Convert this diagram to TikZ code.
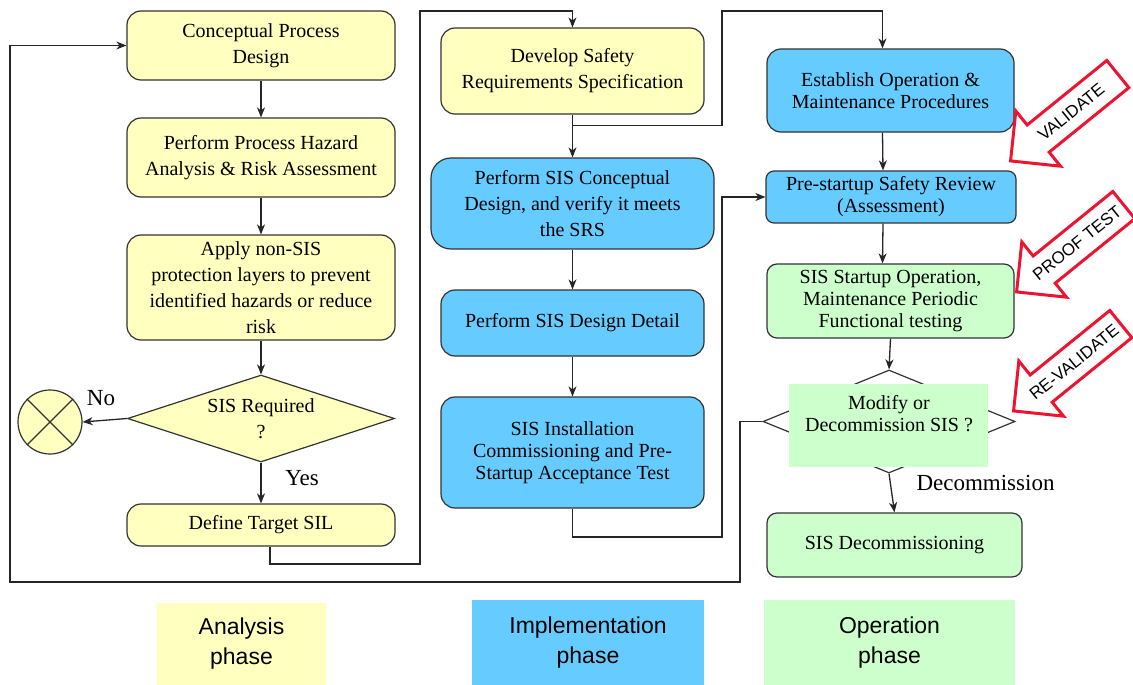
\documentclass[tikz,border=0pt]{standalone}
\usepackage{fontspec}
\setmainfont{Liberation Serif}
\setsansfont{Liberation Sans}
\usetikzlibrary{shapes.geometric, shapes.arrows, arrows.meta}
\definecolor{anyellow}{RGB}{255,255,192}
\definecolor{imblue}{RGB}{102,204,255}
\definecolor{opgreen}{RGB}{204,255,204}
\definecolor{edgegray}{RGB}{51,51,51}
\definecolor{warnred}{RGB}{237,20,50}

\begin{document}
\begin{tikzpicture}[x=1pt, y=-1pt, >={Stealth[length=10pt,width=8pt,inset=3pt]},
	box/.style={draw=edgegray, line width=1.2pt, rounded corners=14pt, align=center, inner sep=0pt, font=\fontsize{20}{26}\selectfont},
	tight/.style={font=\fontsize{20}{22}\selectfont},
	dmd/.style={diamond, aspect=3, draw=edgegray, line width=1.2pt, inner sep=0pt, align=center, font=\fontsize{20}{26}\selectfont},
	flow/.style={->, draw=black!85, line width=1.3pt},
	tag/.style={inner sep=0pt, font=\fontsize{23}{26}\selectfont},
	phase/.style={inner sep=0pt, align=center, font=\sffamily\fontsize{23}{30}\selectfont},
	warn/.style={single arrow, shape border rotate=180, rotate=39, draw=warnred, line width=3pt, fill=white, minimum height=138pt, single arrow head extend=18pt, inner xsep=4pt, inner ysep=10pt, text height=12pt, text depth=0pt, font=\sffamily\fontsize{17}{17}\selectfont}]
	\useasboundingbox (0,0) rectangle (1133,685);

	% analysis column
	\node[box, fill=anyellow, minimum width=268pt, minimum height=69pt] (design) at (261,45.5) {Conceptual Process\\Design};
	\node[box, fill=anyellow, minimum width=268pt, minimum height=79pt] (hazard) at (261,157.5) {Perform Process Hazard\\Analysis \& Risk Assessment};
	\node[box, fill=anyellow, minimum width=268pt, minimum height=105pt] (layers) at (261,287.5) {Apply non-SIS\\protection layers to prevent\\identified hazards or reduce\\risk};
	\node[dmd, fill=anyellow, minimum width=267pt, minimum height=87pt] (required) at (261,418.5) {SIS Required\\?};
	\node[circle, draw=edgegray, line width=1.2pt, fill=anyellow, minimum size=64pt] (stop) at (50,422) {};
	\draw[edgegray, line width=1.2pt] (stop.north west) -- (stop.south east) (stop.north east) -- (stop.south west);
	\node[box, fill=anyellow, minimum width=268pt, minimum height=42pt] (sil) at (261,525) {Define Target SIL};

	% implementation column
	\node[box, fill=anyellow, minimum width=263pt, minimum height=86pt] (srs) at (572.5,71) {Develop Safety\\Requirements Specification};
	\node[box, fill=imblue, rounded corners=20pt, minimum width=283pt, minimum height=91pt] (concept) at (572.5,203.5) {Perform SIS Conceptual\\Design, and verify it meets\\the SRS};
	\node[box, fill=imblue, minimum width=263pt, minimum height=66pt] (detail) at (572.5,323) {Perform SIS Design Detail};
	\node[box, tight, fill=imblue, minimum width=263pt, minimum height=111pt] (install) at (572.5,452.5) {SIS Installation\\Commissioning and Pre-\\Startup Acceptance Test};

	% operation column
	\node[box, tight, fill=imblue, minimum width=247pt, minimum height=83pt] (proc) at (890.5,90.5) {Establish Operation \&\\Maintenance Procedures};
	\node[box, tight, fill=imblue, rounded corners=8pt, minimum width=250pt, minimum height=52pt] (review) at (891,197) {Pre-startup Safety Review\\(Assessment)};
	\node[box, tight, fill=opgreen, rounded corners=10pt, minimum width=247pt, minimum height=74pt] (startup) at (890.5,301) {SIS Startup Operation,\\Maintenance Periodic\\Functional testing};
	\node[dmd, minimum width=252pt, minimum height=103pt] (modify) at (889,421.5) {};
	\node[fill=opgreen, minimum width=199pt, minimum height=83pt, inner sep=0pt] (modifybg) at (888.5,425.5) {};
	\node[tight, align=center, inner sep=0pt] (modifytxt) at (889,414) {Modify or\\Decommission SIS ?};
	\node[box, fill=opgreen, rounded corners=10pt, minimum width=255pt, minimum height=64pt] (decommission) at (894.5,545) {SIS Decommissioning};

	% connectors
	\draw[flow] (design.south) -- (hazard.north);
	\draw[flow] (hazard.south) -- (layers.north);
	\draw[flow] (layers.south) -- (required.north);
	\draw[flow] (required.south) -- (sil.north);
	\draw[flow] (required.west) -- (stop.east);
	\node[tag] (yes) at (302,478) {Yes};
	\node[tag] (no) at (101,398) {No};
	\draw[flow] ([xshift=9pt]sil.south) |- (420,564) -- (420,11) -| (srs.north);
	\draw[flow] (srs.south) -- (concept.north);
	\draw[flow] ([yshift=-11pt]srs.south) -| (722,11) -| ([xshift=-8pt]proc.north);
	\draw[flow] (concept.south) -- (detail.north);
	\draw[flow] (detail.south) -- (install.north);
	\draw[flow] (install.south) |- (722,537) |- (review.west);
	\draw[flow] ([xshift=-8pt]proc.south) -- ([xshift=-8pt]review.north);
	\draw[flow] ([xshift=-8pt]review.south) -- ([xshift=-8pt]startup.north);
	\draw[flow] (startup.south) -- (modify.north);
	\draw[flow] (modify.south) -- (decommission.north);
	\node[tag] (decom) at (985.5,483) {Decommission};
	\draw[flow] (modify.west) -| (740,582) -- (10,582) |- (design.west);

	% review arrows
	\node[warn] (validate) at (1071,112) {VALIDATE};
	\node[warn] (prooftest) at (1077,243) {PROOF TEST};
	\node[warn] (revalidate) at (1074,362) {RE-VALIDATE};

	% phase legend
	\node[phase, fill=anyellow, minimum width=169pt, minimum height=82pt] (analysis) at (241.5,644) {Analysis\\phase};
	\node[phase, fill=imblue, minimum width=232pt, minimum height=85pt] (implementation) at (588,642.5) {Implementation\\phase};
	\node[phase, fill=opgreen, minimum width=251pt, minimum height=85pt] (operation) at (889.5,642.5) {Operation\\phase};
\end{tikzpicture}
\end{document}
